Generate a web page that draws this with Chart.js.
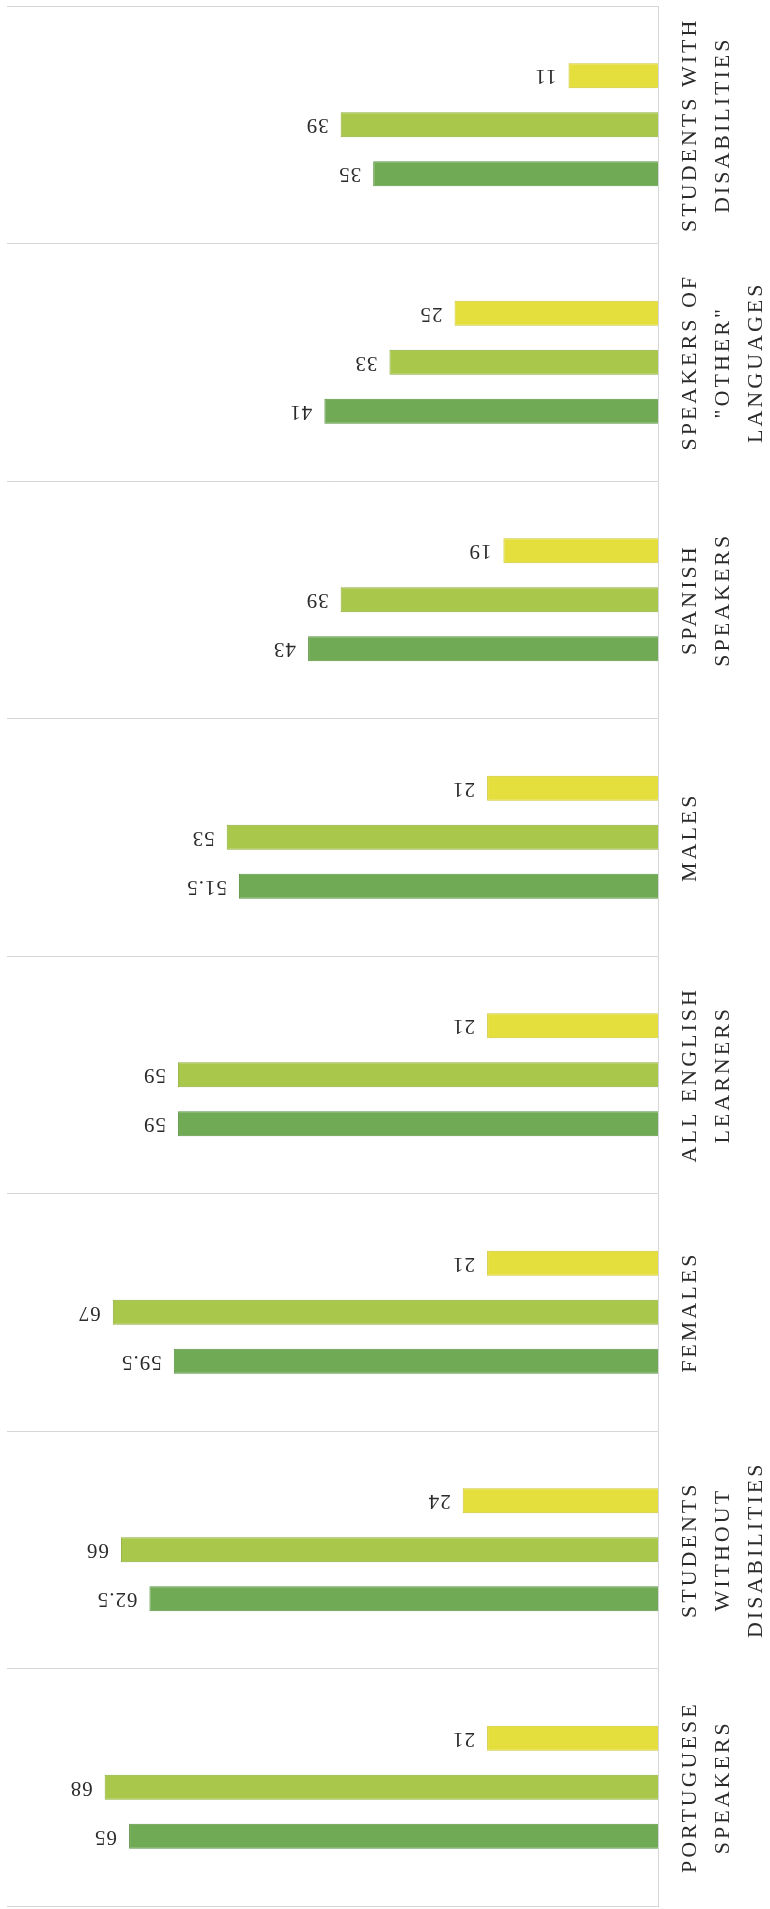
<!DOCTYPE html>
<html lang="en">
  <head>
    <meta charset="UTF-8" />
    <meta name="viewport" content="width=device-width, initial-scale=1.0" />
    <title>English learner subgroups</title>
    <script src="https://cdn.jsdelivr.net/npm/chart.js@4.4.0/dist/chart.umd.min.js"></script>
    <style>
      html,
      body {
        margin: 0;
        padding: 0;
        background-color: #ffffff;
      }

      .chart-container {
        position: relative;
        width: 770px;
        height: 1909px;
      }
    </style>
  </head>
  <body>
    <div class="chart-container">
      <canvas id="chart"></canvas>
    </div>

    <script>
      // Groups, listed from the top of the chart down
      const categories = [
        ["STUDENTS WITH", "DISABILITIES"],
        ["SPEAKERS OF", '"OTHER"', "LANGUAGES"],
        ["SPANISH", "SPEAKERS"],
        ["MALES"],
        ["ALL ENGLISH", "LEARNERS"],
        ["FEMALES"],
        ["STUDENTS", "WITHOUT", "DISABILITIES"],
        ["PORTUGUESE", "SPEAKERS"],
      ];

      // One value per group for each bar colour
      const yellowValues = [11, 25, 19, 21, 21, 21, 24, 21];
      const lightGreenValues = [39, 33, 39, 53, 59, 67, 66, 68];
      const darkGreenValues = [35, 41, 43, 51.5, 59, 59.5, 62.5, 65];

      const valueMin = 0;
      const valueMax = 80;

      const textColor = "#2b2b2b";
      const serif = '"Liberation Serif", "DejaVu Serif", serif';

      // Group names, written sideways beside the axis
      const categoryLabels = {
        id: "categoryLabels",
        afterDraw(chart) {
          const ctx = chart.ctx;
          const yScale = chart.scales.y;
          ctx.save();
          ctx.fillStyle = textColor;
          ctx.font = "22px " + serif;
          ctx.letterSpacing = "3px";
          ctx.textAlign = "center";
          ctx.textBaseline = "middle";
          categories.forEach((lines, i) => {
            const y = yScale.getPixelForValue(i);
            lines.forEach((line, j) => {
              ctx.save();
              ctx.translate(yScale.left + 32 + j * 33, y);
              ctx.rotate(-Math.PI / 2);
              ctx.fillText(line, 0, 0);
              ctx.restore();
            });
          });
          ctx.restore();
        },
      };

      // Value printed past the end of each bar
      const barValues = {
        id: "barValues",
        afterDatasetsDraw(chart) {
          const ctx = chart.ctx;
          ctx.save();
          ctx.fillStyle = textColor;
          ctx.font = "21px " + serif;
          ctx.letterSpacing = "1px";
          ctx.textAlign = "left";
          ctx.textBaseline = "middle";
          chart.data.datasets.forEach((dataset, d) => {
            chart.getDatasetMeta(d).data.forEach((bar, i) => {
              ctx.save();
              ctx.translate(bar.x - 12, bar.y);
              ctx.rotate(Math.PI);
              ctx.fillText(String(dataset.data[i]), 0, 0);
              ctx.restore();
            });
          });
          ctx.restore();
        },
      };

      const ctx = document.getElementById("chart").getContext("2d");

      new Chart(ctx, {
        type: "bar",
        data: {
          labels: categories.map((c) => c.join(" ")),
          datasets: [
            {
              label: "yellow",
              data: yellowValues,
              backgroundColor: "#e4df3c",
              borderColor: "#cfc830",
              borderWidth: 1,
            },
            {
              label: "light green",
              data: lightGreenValues,
              backgroundColor: "#a9c74b",
              borderColor: "#8fae38",
              borderWidth: 1,
            },
            {
              label: "dark green",
              data: darkGreenValues,
              backgroundColor: "#71aa54",
              borderColor: "#5a9442",
              borderWidth: 1,
            },
          ],
        },
        options: {
          indexAxis: "y",
          responsive: true,
          maintainAspectRatio: false,
          animation: false,
          layout: {
            padding: { left: 7, top: 6, bottom: 3, right: 0 },
          },
          datasets: {
            bar: {
              categoryPercentage: 0.62,
              barPercentage: 0.51,
            },
          },
          plugins: {
            legend: { display: false },
            tooltip: { enabled: false },
          },
          scales: {
            x: {
              display: false,
              reverse: true,
              min: valueMin,
              max: valueMax,
            },
            y: {
              position: "right",
              afterFit(scale) {
                scale.width = 112;
              },
              ticks: { display: false },
              grid: {
                color: "#d6d6d6",
                lineWidth: 1,
                drawTicks: false,
              },
              border: {
                display: true,
                color: "#d6d6d6",
                width: 1,
              },
            },
          },
        },
        plugins: [categoryLabels, barValues],
      });
    </script>
  </body>
</html>
